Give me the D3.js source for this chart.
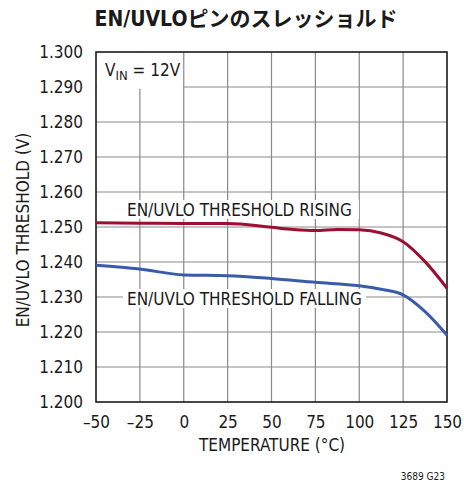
<!DOCTYPE html>
<html><head><meta charset="utf-8">
<script src="https://cdn.jsdelivr.net/npm/d3@7"></script>
<style>body{margin:0;background:#fff}svg{display:block}</style>
</head><body>
<script>
const temps = [-50, -25, 0, 25, 50, 62.5, 75, 87.5, 100, 112.5, 125, 137.5, 150];
const rising = [1.2512, 1.2511, 1.2510, 1.2510, 1.2499, 1.2493, 1.2490, 1.2493, 1.2492, 1.2483, 1.2458, 1.2401, 1.2325];
const fallingTemps = [-50, -25, 0, 25, 50, 75, 100, 112.5, 125, 137.5, 150];
const falling = [1.2391, 1.2380, 1.2363, 1.2361, 1.2353, 1.2342, 1.2332, 1.2322, 1.2306, 1.2258, 1.2191];
const xTicks = [-50, -25, 0, 25, 50, 75, 100, 125, 150];
const yTicks = [1.200, 1.210, 1.220, 1.230, 1.240, 1.250, 1.260, 1.270, 1.280, 1.290, 1.300];

const W = 464, H = 483;
const FONT = "'DejaVu Sans Condensed','Liberation Sans Narrow','Liberation Sans',sans-serif";
const FS = 17;
const svg = d3.select("body").append("svg").attr("width", W).attr("height", H);
const x = d3.scaleLinear().domain([-50, 150]).range([96, 447]);
const y = d3.scaleLinear().domain([1.2, 1.3]).range([402, 52]);

// grid
const g = svg.append("g");
g.selectAll("line.v").data(xTicks.slice(1, -1)).join("line")
  .attr("x1", d => x(d)).attr("x2", d => x(d)).attr("y1", y(1.3)).attr("y2", y(1.2))
  .attr("stroke", "#8a8a8a").attr("stroke-width", 1.2);
g.selectAll("line.h").data(yTicks.slice(1, -1)).join("line")
  .attr("y1", d => y(d)).attr("y2", d => y(d)).attr("x1", x(-50)).attr("x2", x(150))
  .attr("stroke", "#8a8a8a").attr("stroke-width", 1.2);

// white boxes behind labels
svg.append("rect").attr("x", x(-50) + 1).attr("y", y(1.3) + 1).attr("width", 86).attr("height", 36).attr("fill", "#fff");
svg.append("rect").attr("x", 123).attr("y", 200).attr("width", 236).attr("height", 19).attr("fill", "#fff");
svg.append("rect").attr("x", 123).attr("y", 289).attr("width", 243).attr("height", 19).attr("fill", "#fff");

// axes
const xAxis = d3.axisBottom(x).tickValues(xTicks).tickSize(0).tickPadding(14)
  .tickFormat(d => d < 0 ? "\u2013" + Math.abs(d) : d);
svg.append("g").attr("transform", `translate(0,${y(1.2)})`).call(xAxis)
  .call(s => s.select(".domain").remove())
  .selectAll("text").attr("font-family", FONT).attr("font-size", FS).attr("fill", "#1a1a1a");
const yAxis = d3.axisLeft(y).tickValues(yTicks).tickSize(0).tickPadding(13).tickFormat(d3.format(".3f"));
svg.append("g").attr("transform", `translate(${x(-50)},0)`).call(yAxis)
  .call(s => s.select(".domain").remove())
  .selectAll("text").attr("font-family", FONT).attr("font-size", FS).attr("fill", "#1a1a1a");

// frame
svg.append("rect").attr("x", x(-50)).attr("y", y(1.3)).attr("width", x(150) - x(-50)).attr("height", y(1.2) - y(1.3))
  .attr("fill", "none").attr("stroke", "#1a1a1a").attr("stroke-width", 1.6);

// lines
const lineR = d3.line().x((d, i) => x(temps[i])).y(d => y(d)).curve(d3.curveMonotoneX);
const lineF = d3.line().x((d, i) => x(fallingTemps[i])).y(d => y(d)).curve(d3.curveMonotoneX);
svg.append("path").attr("d", lineR(rising)).attr("fill", "none").attr("stroke", "#9b0f33").attr("stroke-width", 3);
svg.append("path").attr("d", lineF(falling)).attr("fill", "none").attr("stroke", "#3a5bab").attr("stroke-width", 3);

// labels
svg.append("text").attr("x", 127).attr("y", 216).attr("font-family", FONT).attr("font-size", FS).attr("fill", "#1a1a1a")
  .text("EN/UVLO THRESHOLD RISING");
svg.append("text").attr("x", 127).attr("y", 305).attr("font-family", FONT).attr("font-size", FS).attr("fill", "#1a1a1a")
  .text("EN/UVLO THRESHOLD FALLING");
const vin = svg.append("text").attr("x", 105).attr("y", 76).attr("font-family", FONT).attr("font-size", 17).attr("fill", "#1a1a1a");
vin.append("tspan").text("V");
vin.append("tspan").attr("font-size", 13).attr("dy", 4).text("IN");
vin.append("tspan").attr("dy", -4).text(" = 12V");

// axis titles
svg.append("text").attr("x", 272).attr("y", 451).attr("text-anchor", "middle").attr("font-family", FONT)
  .attr("font-size", FS).attr("fill", "#1a1a1a").text("TEMPERATURE (\u00B0C)");
svg.append("text").attr("transform", "translate(29,230) rotate(-90)").attr("text-anchor", "middle").attr("font-family", FONT)
  .attr("font-size", FS).attr("fill", "#1a1a1a").text("EN/UVLO THRESHOLD (V)");

// title
svg.append("text").attr("x", 246).attr("y", 26).attr("text-anchor", "middle")
  .attr("font-family", "'DejaVu Sans Condensed','Noto Sans CJK JP',sans-serif").attr("font-weight", "bold")
  .attr("font-size", 21).attr("fill", "#1a1a1a").text("EN/UVLOピンのスレッショルド");

svg.append("text").attr("x", 445).attr("y", 480).attr("text-anchor", "end").attr("font-family", FONT)
  .attr("font-size", 10).attr("fill", "#1a1a1a").text("3689 G23");
</script>
</body></html>
